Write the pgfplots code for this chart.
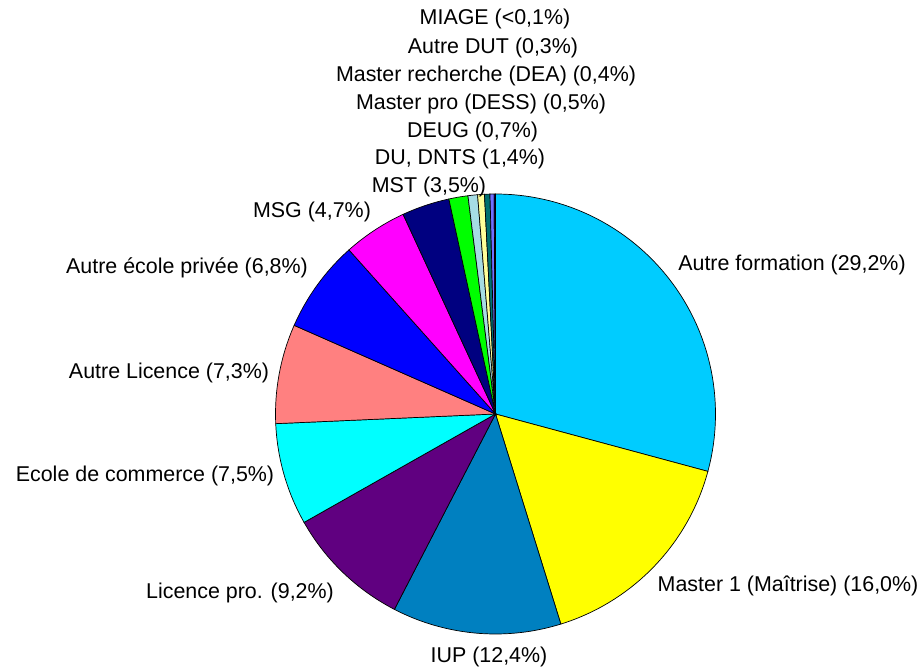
\documentclass[border=0pt]{standalone}
\usepackage{pgfplots}
\pgfplotsset{compat=1.18}
\usepackage{fontspec}
\setmainfont{Liberation Sans}
\definecolor{cAF}{HTML}{00CCFF}
\definecolor{cM1}{HTML}{FFFF00}
\definecolor{cIUP}{HTML}{0080C0}
\definecolor{cLP}{HTML}{600080}
\definecolor{cEC}{HTML}{00FFFF}
\definecolor{cAL}{HTML}{FF8080}
\definecolor{cAEP}{HTML}{0000FF}
\definecolor{cMSG}{HTML}{FF00FF}
\definecolor{cMST}{HTML}{000080}
\definecolor{cDU}{HTML}{00FF00}
\definecolor{cDEUG}{HTML}{A6DCE4}
\definecolor{cMP}{HTML}{FFFF99}
\definecolor{cMR}{HTML}{007070}
\definecolor{cDUT}{HTML}{7070FF}
\definecolor{cMIAGE}{HTML}{000080}
\tikzset{lbl/.style={font=\fontsize{21.5}{25}\selectfont, inner sep=0pt}}
% pie centre and radius (pixel units of the picture)
\def\cx{495.5}
\def\cy{254}
\def\rr{220}
\gdef\cum{0}
\newcommand{\slice}[2]{% #1 = share in %, #2 = colour
  \pgfmathsetmacro\angA{90-3.6*\cum}%
  \pgfmathsetmacro\newcum{\cum+#1}%
  \pgfmathsetmacro\angB{90-3.6*\newcum}%
  \xdef\cum{\newcum}%
  \edef\tmp{\noexpand\addplot[fill=#2,draw=black,line width=0.7pt,domain=\angB:\angA,samples=60,smooth=false]
    ({\cx+\rr*cos(x)},{\cy+\rr*sin(x)}) -- (axis cs:\cx,\cy) -- cycle;}%
  \tmp
}
\begin{document}
\begin{tikzpicture}
\begin{axis}[
  width=924bp, height=668bp, scale only axis,
  xmin=0, xmax=924, ymin=0, ymax=668,
  hide axis, clip=false,
]
\slice{29.2}{cAF}
\slice{16.0}{cM1}
\slice{12.4}{cIUP}
\slice{9.2}{cLP}
\slice{7.5}{cEC}
\slice{7.3}{cAL}
\slice{6.8}{cAEP}
\slice{4.7}{cMSG}
\slice{3.5}{cMST}
\slice{1.4}{cDU}
\slice{0.7}{cDEUG}
\slice{0.5}{cMP}
\slice{0.4}{cMR}
\slice{0.3}{cDUT}
\slice{0.1}{cMIAGE}
\path (axis cs:0,0) rectangle (axis cs:924,668);
\node[lbl] at (axis cs:495,649) {MIAGE (<0,1\%)};
\node[lbl] at (axis cs:493,620) {Autre DUT (0,3\%)};
\node[lbl] at (axis cs:486,592) {Master recherche (DEA) (0,4\%)};
\node[lbl] at (axis cs:481,564) {Master pro (DESS) (0,5\%)};
\node[lbl] at (axis cs:472.5,536.5) {DEUG (0,7\%)};
\node[lbl] at (axis cs:460,509) {DU, DNTS (1,4\%)};
\node[lbl] at (axis cs:429,481) {MST (3,5\%)};
\node[lbl] at (axis cs:312,456) {MSG (4,7\%)};
\node[lbl] at (axis cs:187,400) {Autre école privée (6,8\%)};
\node[lbl] at (axis cs:169,295) {Autre Licence (7,3\%)};
\node[lbl] at (axis cs:145,192) {Ecole de commerce (7,5\%)};
\node[lbl] at (axis cs:240,75) {Licence pro. (9,2\%)};
\node[lbl] at (axis cs:489,11) {IUP (12,4\%)};
\node[lbl] at (axis cs:788,82) {Master 1 (Maîtrise) (16,0\%)};
\node[lbl] at (axis cs:792,403) {Autre formation (29,2\%)};
\end{axis}
\end{tikzpicture}
\end{document}
